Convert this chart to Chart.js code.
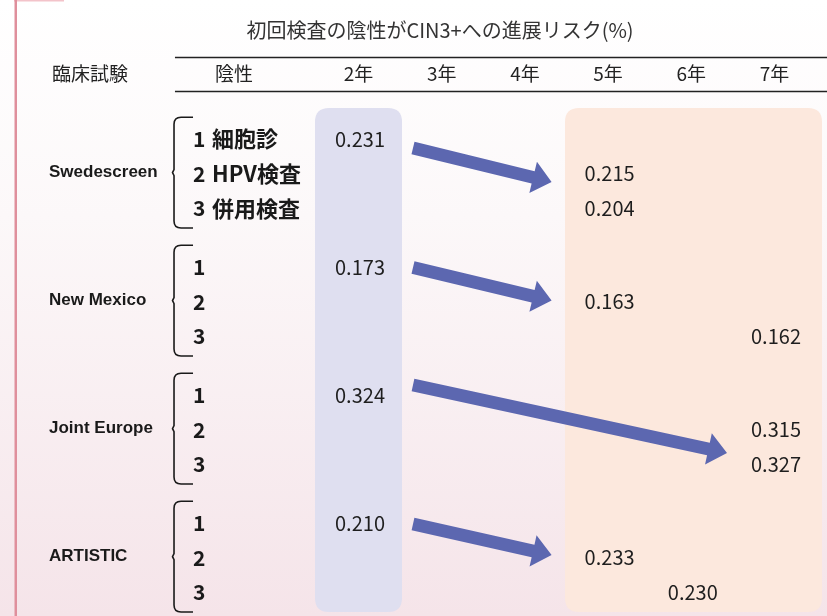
<!DOCTYPE html>
<html>
<head>
<meta charset="utf-8">
<script src="https://cdn.jsdelivr.net/npm/chart.js@4.4.1/dist/chart.umd.min.js"></script>
<style>
html,body{margin:0;padding:0;background:#fff;}
#caja{width:827px;height:616px;}
</style>
</head>
<body>
<div id="caja"><canvas id="grafico"></canvas></div>
<script>
//DATOS
const titulo='初回検査の陰性がCIN3+への進展リスク(%)';
const cabeceras=['臨床試験','陰性'];
const years=['2年','3年','4年','5年','6年','7年'];
const trials=['Swedescreen','New Mexico','Joint Europe','ARTISTIC'];
const tests=['1 細胞診','2 HPV検査','3 併用検査'];
const testsCortos=['1','2','3'];
// 1 細胞診 (2年)
const baseValues=[0.231,0.173,0.324,0.210];
const baseYears=['2年','2年','2年','2年'];
// 2 HPV検査
const hpvValues=[0.215,0.163,0.315,0.233];
const hpvYears=['5年','5年','7年','5年'];
// 3 併用検査
const coValues=[0.204,0.162,0.327,0.230];
const coYears=['5年','7年','7年','6年'];

//ESTILOS Y POSICIONES
const GRUPO=3.7;             // filas entre grupos
const FUENTE='"Noto Sans CJK JP","Noto Sans",sans-serif';
const AZUL='#5c67b0';
// ajustes a mano de las flechas: [dx inicio, dy inicio, dx fin, dy fin] en px
const AJUSTE_FLECHA=[[54,10,-57,-8],[54,1.5,-57,0],[54,-9,-48,7],[54,2,-57,-1.6]];

function puntos(vals,yrs,k){
    return vals.map((v,g)=>({x:years.indexOf(yrs[g]),y:g*GRUPO+k,v:v}));
}

function rectRedondo(ctx,x0,y0,x1,y1,r){
    ctx.beginPath();
    ctx.moveTo(x0+r,y0);
    ctx.lineTo(x1-r,y0);
    ctx.quadraticCurveTo(x1,y0,x1,y0+r);
    ctx.lineTo(x1,y1-r);
    ctx.quadraticCurveTo(x1,y1,x1-r,y1);
    ctx.lineTo(x0+r,y1);
    ctx.quadraticCurveTo(x0,y1,x0,y1-r);
    ctx.lineTo(x0,y0+r);
    ctx.quadraticCurveTo(x0,y0,x0+r,y0);
    ctx.closePath();
}

function flecha(ctx,x0,y0,x1,y1){
    const dx=x1-x0, dy=y1-y0, L=Math.hypot(dx,dy);
    const ux=dx/L, uy=dy/L, nx=-uy, ny=ux;
    const cab=19, anchoCab=16, anchoAsta=6.4;
    const bx=x1-ux*cab, by=y1-uy*cab;
    ctx.beginPath();
    ctx.moveTo(x0+nx*anchoAsta,y0+ny*anchoAsta);
    ctx.lineTo(bx+nx*anchoAsta,by+ny*anchoAsta);
    ctx.lineTo(bx+nx*anchoCab,by+ny*anchoCab);
    ctx.lineTo(x1,y1);
    ctx.lineTo(bx-nx*anchoCab,by-ny*anchoCab);
    ctx.lineTo(bx-nx*anchoAsta,by-ny*anchoAsta);
    ctx.lineTo(x0-nx*anchoAsta,y0-ny*anchoAsta);
    ctx.closePath();
    ctx.fillStyle=AZUL;
    ctx.fill();
}

function llave(ctx,xr,xl,top,bot){
    const mid=(top+bot)/2, r=7;
    ctx.beginPath();
    ctx.moveTo(xr,top);
    ctx.lineTo(xl+r,top);
    ctx.quadraticCurveTo(xl,top,xl,top+r);
    ctx.lineTo(xl,mid-3);
    ctx.lineTo(xl-1.5,mid);
    ctx.lineTo(xl,mid+3);
    ctx.lineTo(xl,bot-r);
    ctx.quadraticCurveTo(xl,bot,xl+r,bot);
    ctx.lineTo(xr,bot);
    ctx.strokeStyle='#1a1a1a';
    ctx.lineWidth=1.6;
    ctx.stroke();
}

const fondo={
    id:'fondo',
    beforeDraw(chart){
        const ctx=chart.ctx, w=chart.width, h=chart.height;
        ctx.save();
        const grad=ctx.createLinearGradient(0,0,0,h);
        grad.addColorStop(0,'#ffffff');
        grad.addColorStop(0.35,'#fcf8f9');
        grad.addColorStop(1,'#f5e4e9');
        ctx.fillStyle=grad;
        ctx.fillRect(0,0,w,h);
        ctx.fillStyle='#f3c3ca';
        ctx.fillRect(14,0,50,1.5);
        ctx.fillStyle='#df8f9c';
        ctx.fillRect(14.5,0,2.5,h);
        ctx.restore();
    },
    beforeDatasetsDraw(chart){
        const ctx=chart.ctx, xs=chart.scales.x, ys=chart.scales.y;
        const top=ys.getPixelForValue(-0.867), bot=ys.getPixelForValue(13.7);
        const i2=years.indexOf('2年'), i5=years.indexOf('5年'), i7=years.indexOf('7年');
        ctx.save();
        rectRedondo(ctx,xs.getPixelForValue(i2-0.529),top,xs.getPixelForValue(i2+0.517),bot,14);
        ctx.fillStyle='#dfdff0';
        ctx.fill();
        rectRedondo(ctx,xs.getPixelForValue(i5-0.524),top,xs.getPixelForValue(i7+0.565),bot,14);
        ctx.fillStyle='#fce8dd';
        ctx.fill();
        ctx.restore();
    },
    afterDatasetsDraw(chart){
        const ctx=chart.ctx, xs=chart.scales.x, ys=chart.scales.y;
        ctx.save();
        ctx.textBaseline='middle';

        // titulo
        ctx.fillStyle='#333';
        ctx.font='20px '+FUENTE;
        ctx.textAlign='center';
        ctx.fillText(titulo,440,30);

        // cabecera
        const yCab=ys.getPixelForValue(-1.85);
        ctx.font='19px '+FUENTE;
        ctx.fillStyle='#222';
        ctx.fillText(cabeceras[0],xs.getPixelForValue(-3.233),yCab);
        ctx.fillText(cabeceras[1],xs.getPixelForValue(-1.502),yCab);
        years.forEach((a,i)=>ctx.fillText(a,xs.getPixelForValue(i)-0.5,yCab));
        ctx.strokeStyle='#222';
        ctx.lineWidth=1.4;
        const xl0=xs.getPixelForValue(-2.212);
        [-2.341,-1.358].forEach(v=>{
            const y=Math.round(ys.getPixelForValue(v))+0.5;
            ctx.beginPath();ctx.moveTo(xl0,y);ctx.lineTo(chart.width,y);ctx.stroke();
        });

        // ensayos, pruebas y llaves
        const xTest=xs.getPixelForValue(-2.007);
        trials.forEach((t,g)=>{
            ctx.textAlign='left';
            ctx.fillStyle='#1a1a1a';
            ctx.font='bold 17px "Liberation Sans",Arial,sans-serif';
            ctx.fillText(t,xs.getPixelForValue(-3.726),ys.getPixelForValue(g*GRUPO+1));
            const etiquetas=g===0?tests:testsCortos;
            etiquetas.forEach((e,k)=>{
                const y=ys.getPixelForValue(g*GRUPO+k)+1;
                const partes=e.split(' ');
                ctx.font='bold 21px '+FUENTE;
                ctx.fillText(partes[0],xTest+1,y);
                if(partes[1]){
                    ctx.font='bold 22px '+FUENTE;
                    ctx.fillText(partes[1],xTest+20,y);
                }
            });
            llave(ctx,xTest+1,xTest-18,ys.getPixelForValue(g*GRUPO-0.6),ys.getPixelForValue(g*GRUPO+2.6));
        });

        // valores
        ctx.textAlign='center';
        ctx.fillStyle='#1e1e1e';
        ctx.font='20px '+FUENTE;
        chart.data.datasets.forEach((ds,d)=>{
            chart.getDatasetMeta(d).data.forEach((el,i)=>{
                ctx.fillText(ds.data[i].v.toFixed(3),el.x+1,el.y+1);
            });
        });

        // flechas: del 細胞診 (2年) al resultado HPV (o al medio si comparten columna)
        const mBase=chart.getDatasetMeta(0).data, mHpv=chart.getDatasetMeta(1).data, mCo=chart.getDatasetMeta(2).data;
        trials.forEach((t,g)=>{
            const a=AJUSTE_FLECHA[g];
            let tx=mHpv[g].x, ty=mHpv[g].y;
            if(hpvYears[g]===coYears[g]) ty=(mHpv[g].y+mCo[g].y)/2;
            flecha(ctx,mBase[g].x+a[0],mBase[g].y+a[1],tx+a[2],ty+a[3]);
        });
        ctx.restore();
    }
};

const lienzo=document.querySelector('#grafico');
const grafico=new Chart(lienzo,{
    type:'scatter',
    data:{
        datasets:[
            {label:'1 細胞診',data:puntos(baseValues,baseYears,0),pointRadius:0},
            {label:'2 HPV検査',data:puntos(hpvValues,hpvYears,1),pointRadius:0},
            {label:'3 併用検査',data:puntos(coValues,coYears,2),pointRadius:0}
        ]
    },
    options:{
        responsive:true,
        maintainAspectRatio:false,
        animation:false,
        events:[],
        layout:{padding:0},
        plugins:{legend:{display:false},title:{display:false},tooltip:{enabled:false}},
        scales:{
            x:{type:'linear',display:false,min:-359/83.2,max:(827-359)/83.2},
            y:{type:'linear',display:false,reverse:true,min:-138/34.6,max:(616-138)/34.6}
        }
    },
    plugins:[fondo]
});
</script>
</body>
</html>
